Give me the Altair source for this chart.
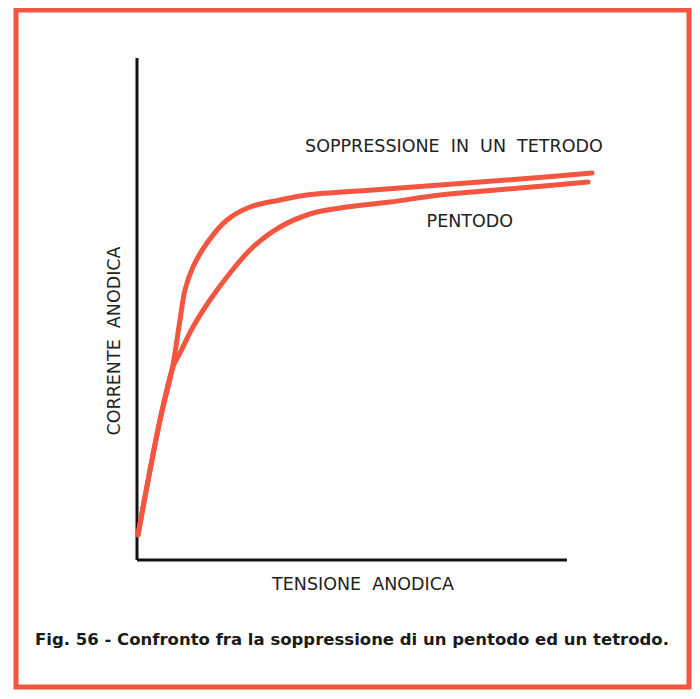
import altair as alt
import pandas as pd

# Curve samples (x: anode voltage units, y: anode current units)
tet_x = [0.23, 5.35, 8.14, 10.0, 11.16, 13.02, 16.28, 20.93, 26.28, 33.26, 39.53, 54.88, 70.47, 89.07, 105.81]
tet_y = [5.0, 28.0, 38.0, 48.0, 54.0, 58.6, 63.4, 68.0, 70.6, 72.0, 73.0, 74.0, 75.0, 76.2, 77.4]
pen_x = [0.23, 5.35, 8.37, 10.0, 13.02, 16.98, 21.63, 26.98, 33.26, 40.93, 47.21, 58.84, 70.47, 89.07, 104.88]
pen_y = [5.0, 28.0, 38.6, 41.4, 46.6, 52.0, 57.4, 62.6, 66.6, 69.4, 70.4, 71.6, 73.0, 74.4, 75.6]

NB = "\u00a0\u00a0"
label_tet = NB.join(["SOPPRESSIONE", "IN", "UN", "TETRODO"])
label_pen = "PENTODO"
label_x = NB.join(["TENSIONE", "ANODICA"])
label_y = NB.join(["CORRENTE", "ANODICA"])
caption = "Fig. 56 - Confronto fra la soppressione di un pentodo ed un tetrodo."

RED = "#f25641"
INK = "#222222"
FONT = "DejaVu Sans"

df = pd.concat([
    pd.DataFrame({"x": tet_x, "y": tet_y, "s": "tetrodo"}),
    pd.DataFrame({"x": pen_x, "y": pen_y, "s": "pentodo"}),
])

xs = alt.Scale(domain=[-28.14, 128.37], nice=False, zero=False)
ys = alt.Scale(domain=[-25.4, 110.0], nice=False, zero=False)

curves = alt.Chart(df).mark_line(
    color=RED, strokeWidth=5, interpolate="catmull-rom", strokeCap="round"
).encode(
    x=alt.X("x:Q", scale=xs, axis=None),
    y=alt.Y("y:Q", scale=ys, axis=None),
    detail="s:N",
)

axes_df = pd.DataFrame({"x": [0, 0], "y": [0, 0], "x2": [0, 100], "y2": [100.4, 0]})
axes = alt.Chart(axes_df).mark_rule(color="#111111", strokeWidth=3).encode(
    x=alt.X("x:Q", scale=xs, axis=None),
    x2="x2:Q",
    y=alt.Y("y:Q", scale=ys, axis=None),
    y2="y2:Q",
)

def txt(t, x, y, size, weight="normal", angle=0, color=INK):
    return alt.Chart(pd.DataFrame({"t": [t]})).mark_text(
        font=FONT, fontSize=size, fontWeight=weight, angle=angle, color=color,
        align="center", baseline="middle",
    ).encode(
        x=alt.datum(x, scale=xs),
        y=alt.datum(y, scale=ys),
        text="t:N",
    )

texts = (
    txt(label_tet, 73.7, 82.6, 17.5)
    + txt(label_pen, 77.4, 67.6, 17.5)
    + txt(label_x, 52.56, -5.0, 17.5)
    + txt(label_y, -5.1, 43.8, 17.5, angle=270)
    + txt(caption, 50.0, -16.0, 16.5, weight="bold", color="#1a1a1a")
)

chart = alt.layer(axes, curves, texts).properties(
    width=684, height=683,
    autosize=alt.AutoSizeParams(type="fit", contains="padding"),
    padding={"left": 8, "top": 2, "right": 3, "bottom": 4},
    background="white",
).configure_view(stroke=RED, strokeWidth=5)

chart.save("out.html", embed_options={"renderer": "svg", "actions": False})
